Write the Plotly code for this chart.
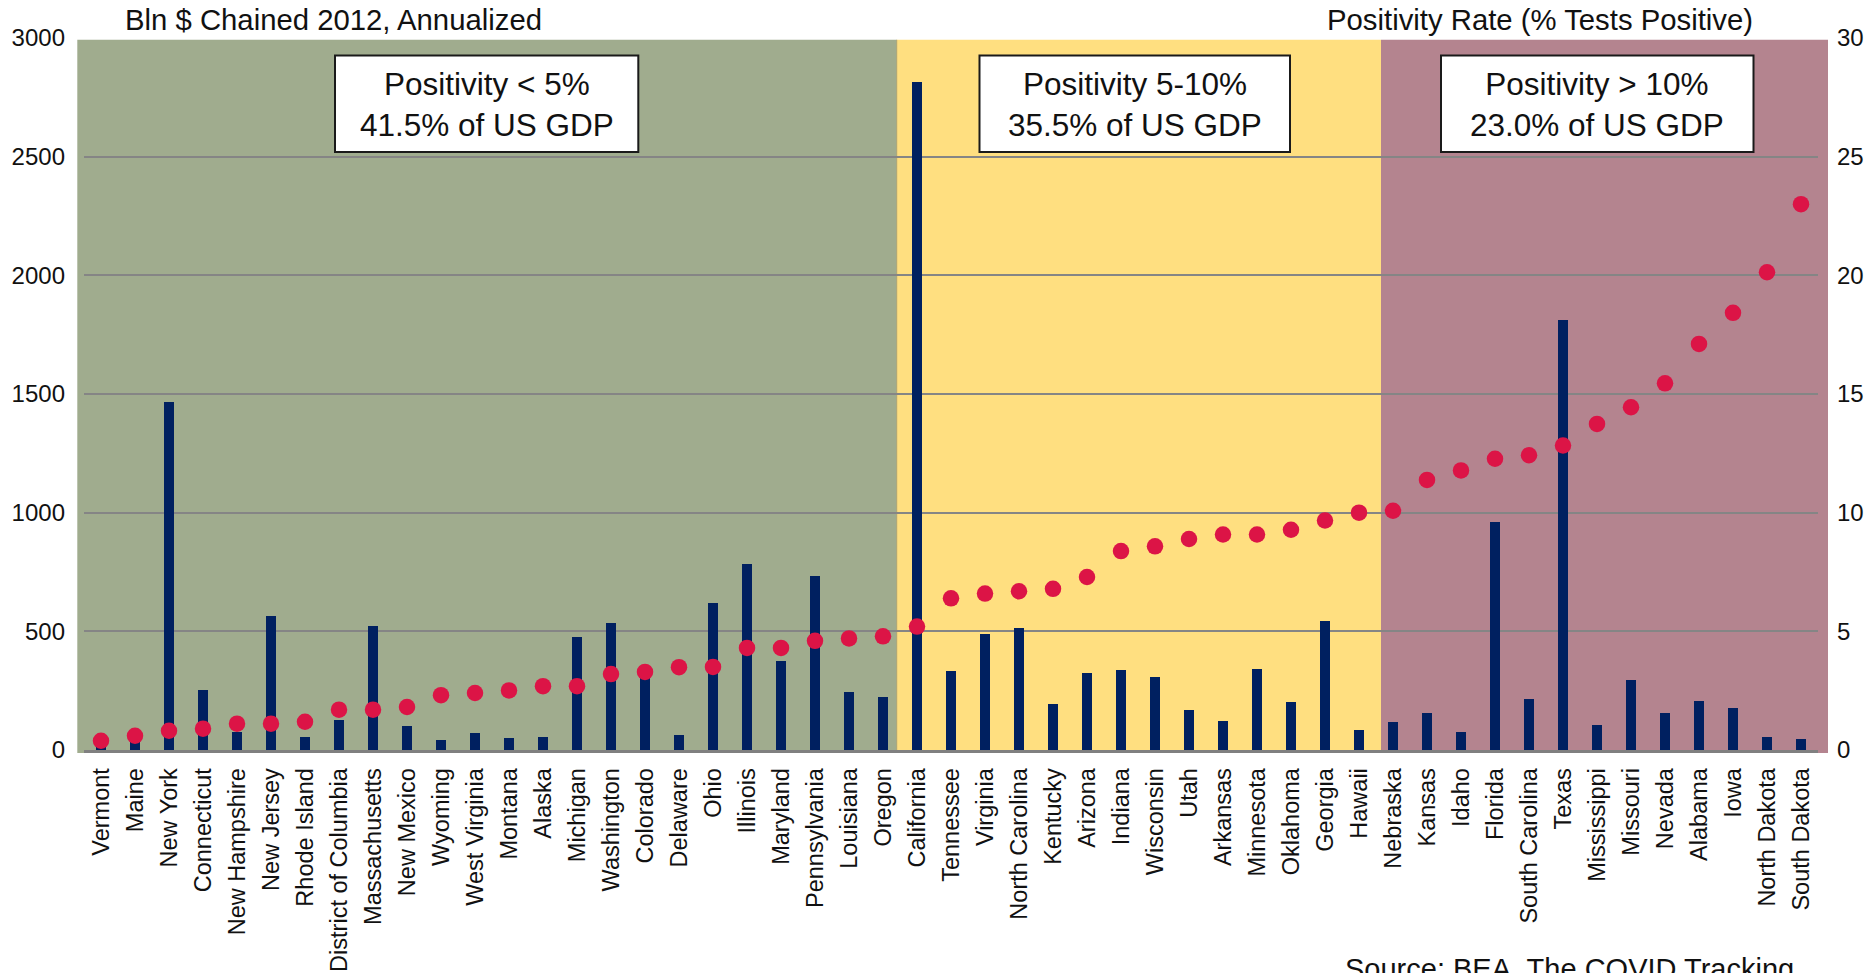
import plotly.graph_objects as go

# States ordered by test positivity rate
states = [
    "Vermont", "Maine", "New York", "Connecticut", "New Hampshire", "New Jersey",
    "Rhode Island", "District of Columbia", "Massachusetts", "New Mexico", "Wyoming",
    "West Virginia", "Montana", "Alaska", "Michigan", "Washington", "Colorado",
    "Delaware", "Ohio", "Illinois", "Maryland", "Pennsylvania", "Louisiana", "Oregon",
    "California", "Tennessee", "Virginia", "North Carolina", "Kentucky", "Arizona",
    "Indiana", "Wisconsin", "Utah", "Arkansas", "Minnesota", "Oklahoma", "Georgia",
    "Hawaii", "Nebraska", "Kansas", "Idaho", "Florida", "South Carolina", "Texas",
    "Mississippi", "Missouri", "Nevada", "Alabama", "Iowa", "North Dakota", "South Dakota",
]

# Real GDP, bln $ chained 2012, annualized
gdp = [
    30, 55, 1465, 252, 77, 566,
    56, 126, 523, 100, 41,
    73, 49, 56, 477, 537, 320,
    63, 618, 785, 377, 733, 243, 223,
    2814, 332, 489, 512, 192, 325,
    335, 308, 168, 122, 341, 202, 543,
    86, 116, 158, 74, 959, 216, 1812,
    105, 294, 156, 206, 177, 56, 48,
]

# Positivity rate, % of tests positive
positivity = [
    0.39, 0.60, 0.81, 0.90, 1.11, 1.11,
    1.19, 1.70, 1.70, 1.81, 2.31,
    2.40, 2.51, 2.69, 2.69, 3.20, 3.29,
    3.49, 3.50, 4.30, 4.30, 4.60, 4.70, 4.79,
    5.20, 6.39, 6.59, 6.69, 6.79, 7.29,
    8.38, 8.58, 8.89, 9.08, 9.08, 9.28, 9.67,
    10.00, 10.08, 11.38, 11.78, 12.27, 12.42, 12.83,
    13.74, 14.44, 15.45, 17.11, 18.42, 20.13, 23.00,
]

group_labels = [
    "Positivity < 5%<br>41.5% of US GDP",
    "Positivity 5-10%<br>35.5% of US GDP",
    "Positivity > 10%<br>23.0% of US GDP",
]

FONT = "Arial, 'Liberation Sans', sans-serif"
W, H = 1873, 973
ML, MR, MT, MB = 84, 55, 37.5, 223
PW = W - ML - MR
PH = H - MT - MB


def px_x(p):
    return (p - ML) / PW


def px_y(p):
    return (H - MB - p) / PH


fig = go.Figure()

fig.add_trace(go.Bar(
    x=states, y=gdp, yaxis="y", width=0.32,
    marker=dict(color="#002060", line=dict(width=0)),
    name="GDP",
))

fig.add_trace(go.Scatter(
    x=states, y=positivity, yaxis="y2", mode="markers",
    marker=dict(color="#DC1446", size=16.5, line=dict(width=0)),
    name="Positivity",
))

# Shaded positivity bands
bands = [
    (77.3, 896.7, "#A0AC8E"),
    (896.7, 1381.0, "#FFDF80"),
    (1381.0, 1828.0, "#B4848F"),
]
shapes = []
for x0, x1, col in bands:
    shapes.append(dict(
        type="rect", xref="paper", yref="paper",
        x0=px_x(x0), x1=px_x(x1), y0=px_y(753), y1=px_y(39.3),
        fillcolor=col, line=dict(width=0), layer="below",
    ))
shapes.append(dict(
    type="line", xref="paper", yref="paper",
    x0=px_x(896.7), x1=px_x(896.7), y0=px_y(753), y1=px_y(39.3),
    line=dict(color="#A8A070", width=1), layer="below",
))

# Label boxes
boxes = [(335.0, 638.3), (979.5, 1290.0), (1441.0, 1753.5)]
annotations = []
for (x0, x1), txt in zip(boxes, group_labels):
    shapes.append(dict(
        type="rect", xref="paper", yref="paper",
        x0=px_x(x0), x1=px_x(x1), y0=px_y(151.7), y1=px_y(55),
        fillcolor="white", line=dict(color="#1a1a1a", width=2), layer="above",
    ))
    annotations.append(dict(
        xref="paper", yref="paper", x=px_x((x0 + x1) / 2), y=px_y(104),
        text=txt, showarrow=False, xanchor="center", yanchor="middle",
        font=dict(family=FONT, size=31.5, color="#111111"),
    ))

annotations += [
    dict(xref="paper", yref="paper", x=px_x(123), y=px_y(18.5),
         text="Bln $ Chained 2012, Annualized", showarrow=False,
         xanchor="left", yanchor="middle",
         font=dict(family=FONT, size=29.3, color="#111111")),
    dict(xref="paper", yref="paper", x=px_x(1755), y=px_y(18.5),
         text="Positivity Rate (% Tests Positive)", showarrow=False,
         xanchor="right", yanchor="middle",
         font=dict(family=FONT, size=29.3, color="#111111")),
    dict(xref="paper", yref="paper", x=px_x(1343), y=px_y(951),
         text="Source: BEA, The COVID Tracking<br>Project", showarrow=False,
         xanchor="left", yanchor="top", align="left",
         font=dict(family=FONT, size=29, color="#111111")),
]

fig.update_layout(
    width=W, height=H,
    margin=dict(l=ML, r=MR, t=MT, b=MB, autoexpand=False),
    paper_bgcolor="white",
    plot_bgcolor="rgba(0,0,0,0)",
    showlegend=False,
    bargap=0,
    shapes=shapes,
    annotations=annotations,
    xaxis=dict(
        type="category", range=[-0.5, len(states) - 0.5],
        tickangle=-90, showgrid=False,
        showline=True, linecolor="#808080", linewidth=2.5,
        ticks="", ticklabelstandoff=6,
        tickfont=dict(family=FONT, size=23.5, color="#111111"),
    ),
    yaxis=dict(
        range=[0, 3000], dtick=500, tick0=0,
        showgrid=True, gridcolor="#858585", gridwidth=2,
        zeroline=False, showline=False, ticks="",
        ticklabelstandoff=18,
        tickfont=dict(family=FONT, size=24, color="#111111"),
    ),
    yaxis2=dict(
        range=[0, 30], dtick=5, tick0=0, overlaying="y", side="right",
        showgrid=False, zeroline=False, showline=False, ticks="",
        ticklabelstandoff=18,
        tickfont=dict(family=FONT, size=24, color="#111111"),
    ),
)

fig.write_html("out.html")
